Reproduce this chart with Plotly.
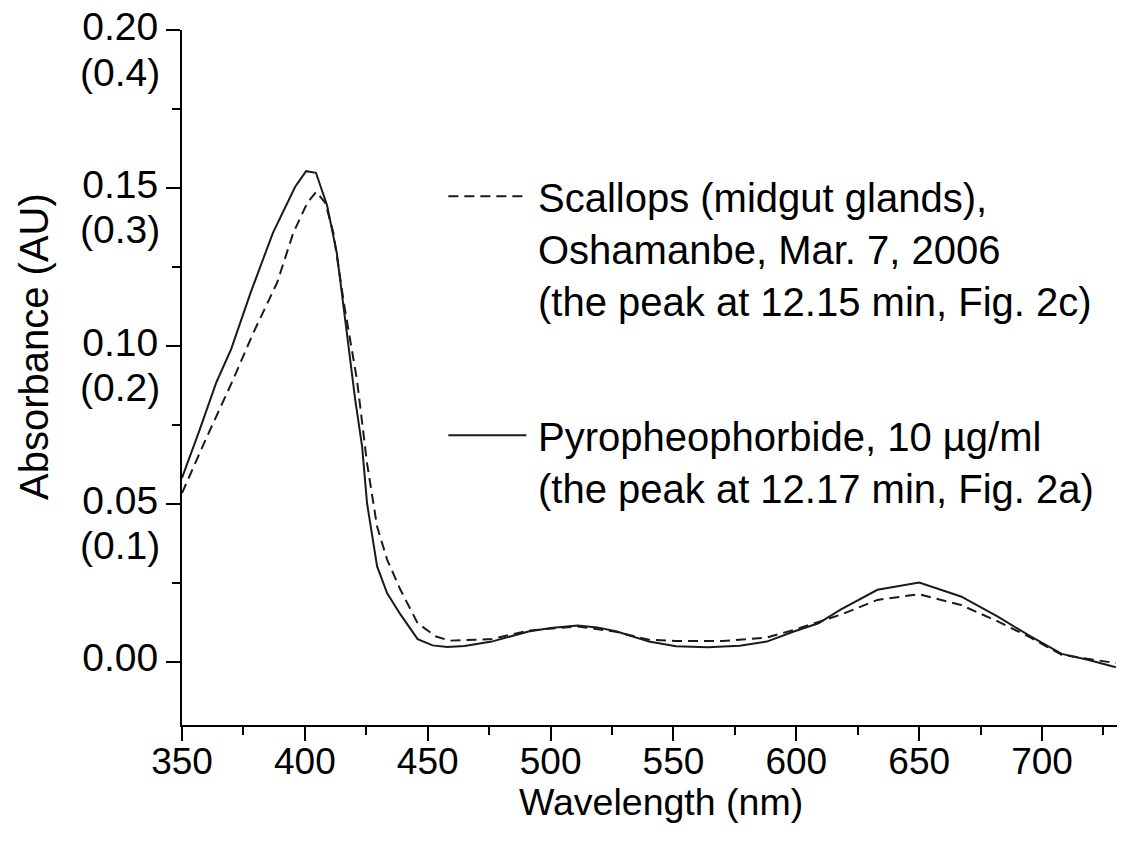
import plotly.graph_objects as go

# ---- data ----
wl_pyro = [350, 357, 364, 370, 378, 387, 396, 400.5, 404.5, 409, 413, 417, 420.5,
           423.3, 425.3, 429.4, 433.5, 438.9, 445.9, 452, 458, 465, 476, 491, 500,
           511, 519, 527, 540, 551, 564, 577, 588, 599, 609, 618, 633, 650, 667,
           682, 695, 708, 719, 730]
abs_pyro = [0.0582, 0.073, 0.0885, 0.099, 0.117, 0.1358, 0.1503, 0.1553, 0.1548,
            0.1446, 0.1294, 0.105, 0.0829, 0.0681, 0.0502, 0.0302, 0.0217, 0.0150,
            0.0072, 0.0052, 0.0047, 0.0050, 0.0064, 0.0096, 0.0107, 0.0115, 0.0109,
            0.0096, 0.0064, 0.0049, 0.0046, 0.0051, 0.0064, 0.0096, 0.0122, 0.0165,
            0.0228, 0.0251, 0.0207, 0.0143, 0.0082, 0.0025, 0.0006, -0.0017]

wl_scal = [350, 360, 370.8, 379, 388.7, 395.3, 401, 404.6, 408.3, 411.6, 416,
           421.2, 425.3, 429.4, 433.5, 438.9, 445.9, 453.4, 459, 476, 491, 511,
           526, 540, 551, 570, 588, 599, 618, 633, 650, 667, 682, 695, 708, 719, 730]
abs_scal = [0.0534, 0.071, 0.0893, 0.1041, 0.120, 0.1358, 0.1453, 0.1488, 0.1453,
            0.1358, 0.113, 0.0893, 0.0629, 0.0428, 0.0323, 0.0228, 0.0122, 0.0080,
            0.0067, 0.0072, 0.0099, 0.0112, 0.0096, 0.0070, 0.0066, 0.0066, 0.0077,
            0.0101, 0.0149, 0.0196, 0.0214, 0.0180, 0.0128, 0.0078, 0.0022, 0.0009,
            -0.0004]

name_scal_lines = ["Scallops (midgut glands),", "Oshamanbe, Mar. 7, 2006",
                   "(the peak at 12.15 min, Fig. 2c)"]
name_pyro_lines = ["Pyropheophorbide, 10 µg/ml", "(the peak at 12.17 min, Fig. 2a)"]

y_tickvals = [0.00, 0.05, 0.10, 0.15, 0.20]
y_main = ["0.00", "0.05", "0.10", "0.15", "0.20"]
y_alt = ["", "(0.1)", "(0.2)", "(0.3)", "(0.4)"]
x_tickvals = [350, 400, 450, 500, 550, 600, 650, 700]

x_title = "Wavelength (nm)"
y_title = "Absorbance (AU)"

# ---- figure ----
FONT = "Liberation Sans, Arial, sans-serif"
PAD = "\u2006"


def legend_name(lines):
    return "<br>".join(PAD + s for s in lines)


fig = go.Figure()
fig.add_trace(go.Scatter(x=wl_scal, y=abs_scal, mode="lines",
                         name=legend_name(name_scal_lines), legendgroup="a",
                         line=dict(color="#1a1a1a", width=2, dash="10px,6px")))
fig.add_trace(go.Scatter(x=wl_pyro, y=abs_pyro, mode="lines",
                         name=legend_name(name_pyro_lines), legendgroup="b",
                         line=dict(color="#1a1a1a", width=2)))

L, R, T, B = 182, 4, 30, 130
W, H = 1121, 855
PW, PH = W - L - R, H - T - B

fig.update_layout(
    width=W, height=H,
    margin=dict(l=L, r=R, t=T, b=B, autoexpand=False),
    paper_bgcolor="white", plot_bgcolor="white",
    font=dict(family=FONT, size=38, color="black"),
    showlegend=True,
    legend=dict(x=0.2795, y=0.8077, xanchor="left", yanchor="top",
                bgcolor="rgba(0,0,0,0)", borderwidth=0,
                font=dict(family=FONT, size=40, color="black"),
                itemwidth=78, valign="top", tracegroupgap=80,
                traceorder="grouped"),
    xaxis=dict(range=[350, 730.5], showgrid=False, zeroline=False,
               showline=True, linecolor="black", linewidth=2,
               ticks="outside", ticklen=14, tickwidth=2, tickcolor="black",
               tickvals=x_tickvals, tickfont=dict(size=37),
               ticklabelstandoff=-11,
               minor=dict(ticks="outside", ticklen=8, tickwidth=2, tickcolor="black",
                          dtick=25, tick0=350),
               mirror=False),
    yaxis=dict(range=[-0.02, 0.20], showgrid=False, zeroline=False,
               showline=True, linecolor="black", linewidth=2,
               ticks="outside", ticklen=14, tickwidth=2, tickcolor="black",
               tickvals=y_tickvals, ticktext=y_main, tickfont=dict(size=39),
               ticklabelstandoff=0, ticklabelshift=-4, ticklabeloverflow="allow",
               minor=dict(ticks="outside", ticklen=8, tickwidth=2, tickcolor="black",
                          dtick=0.025, tick0=0),
               mirror=False),
)

# secondary (parenthesised) scale labels under the main tick labels
for v, a in zip(y_tickvals, y_alt):
    if a:
        fig.add_annotation(text=a, xref="paper", yref="y", x=0, y=v,
                           xanchor="right", yanchor="middle", xshift=-20, yshift=-42,
                           showarrow=False, font=dict(family=FONT, size=39, color="black"))

fig.add_annotation(text=x_title, xref="paper", yref="paper",
                   x=(661 - L) / PW, y=-(802 - (H - B)) / PH,
                   xanchor="center", yanchor="middle", showarrow=False,
                   font=dict(family=FONT, size=37.5, color="black"))
fig.add_annotation(text=y_title, xref="paper", yref="paper",
                   x=-(L - 34) / PW, y=((H - B) - 347) / PH,
                   xanchor="center", yanchor="middle", showarrow=False,
                   textangle=-90,
                   font=dict(family=FONT, size=40, color="black"))

fig.write_html("out.html",
               config={"displayModeBar": False},
               post_script="document.body.style.margin='0';"
                           "document.body.style.overflow='hidden';")
